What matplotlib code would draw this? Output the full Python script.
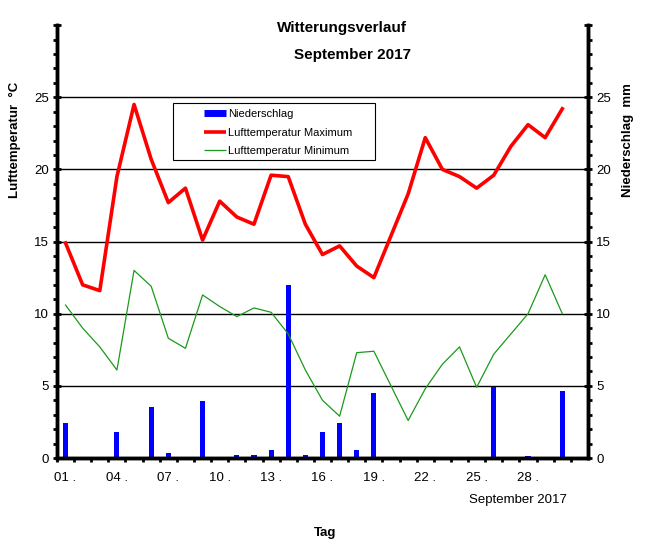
import matplotlib
matplotlib.use("Agg")
import matplotlib.pyplot as plt
from matplotlib.lines import Line2D
from matplotlib.patches import Rectangle
import matplotlib.ticker as ticker

plt.rcParams['font.family'] = ['Liberation Sans', 'DejaVu Sans']

days = list(range(1, 31))
t_max = [14.9, 12.0, 11.6, 19.5, 24.5, 20.7, 17.7, 18.7, 15.1, 17.8,
         16.7, 16.2, 19.6, 19.5, 16.2, 14.1, 14.7, 13.3, 12.5, 15.4,
         18.3, 22.2, 20.0, 19.5, 18.7, 19.6, 21.6, 23.1, 22.2, 24.2]
t_min = [10.6, 9.0, 7.7, 6.1, 13.0, 11.9, 8.3, 7.6, 11.3, 10.5,
         9.8, 10.4, 10.1, 8.6, 6.1, 4.0, 2.9, 7.3, 7.4, 5.0,
         2.6, 4.8, 6.5, 7.7, 4.9, 7.2, 8.6, 10.0, 12.7, 10.0]
rain = [2.45, 0, 0, 1.8, 0, 3.55, 0.37, 0, 3.97, 0,
        0.2, 0.2, 0.55, 12.0, 0.2, 1.8, 2.4, 0.55, 4.5, 0,
        0, 0, 0, 0, 0, 4.95, 0, 0.14, 0, 4.65]
label_days = [1, 4, 7, 10, 13, 16, 19, 22, 25, 28]
tick_labels = [f"{d:02d} ." for d in label_days]

fig = plt.figure(figsize=(6.46, 5.48), dpi=100)
ax2 = fig.add_axes([0.0882, 0.1642, 0.822, 0.790])
ax = ax2.twinx()

# precipitation on the right axis
ax2.bar(days, rain, width=0.3, color='#0000ff', zorder=2)
ax2.set_ylim(0, 30)
ax2.set_xlim(0.5, 31.5)

# temperatures on the left axis (drawn on top)
ax.plot(days, t_max, color='#ff0000', lw=2.6, zorder=3)
ax.plot(days, t_min, color='#1a9a1a', lw=0.9, zorder=3)
ax.set_ylim(0, 30)
ax.yaxis.tick_left()
ax2.yaxis.tick_right()

for a in (ax, ax2):
    a.spines['top'].set_visible(False)
    a.spines['left'].set_linewidth(2.5)
    a.spines['right'].set_linewidth(2.5)
    a.spines['bottom'].set_linewidth(2.5)

# grid lines
for v in [5, 10, 15, 20, 25]:
    ax2.axhline(v, color='black', lw=1, zorder=1)

for a in (ax, ax2):
    a.yaxis.set_major_locator(ticker.MultipleLocator(5))
    a.yaxis.set_minor_locator(ticker.MultipleLocator(1))
    a.yaxis.set_major_formatter(ticker.FuncFormatter(lambda v, p: "" if v > 25 else f"{int(v)}"))
    a.tick_params(axis='y', which='major', direction='inout', length=6, width=2, labelsize=9.5, pad=3)
    a.tick_params(axis='y', which='minor', direction='out', length=3, width=2)

fig.text(15 / 646, 1 - 140 / 548, "Lufttemperatur  °C", rotation=90, ha='center', va='center',
         fontsize=9.5, fontweight='bold')
fig.text(628 / 646, 1 - 140 / 548, "Niederschlag  mm", rotation=90, ha='center', va='center',
         fontsize=9.5, fontweight='bold')

ax2.set_xticks(label_days)
ax2.set_xticklabels(tick_labels, fontsize=9.5)
ax2.tick_params(axis='x', which='major', length=0, pad=10)
ax2.xaxis.set_minor_locator(ticker.FixedLocator([d + 0.5 for d in range(0, 31)]))
ax2.tick_params(axis='x', which='minor', direction='out', length=3, width=2)
ax.tick_params(axis='x', which='both', length=0, labelbottom=False)

# legend: box drawn separately for the wide left padding
ax.add_patch(Rectangle((173 / 646, 1 - 160 / 548), 202 / 646, 57 / 548,
                       transform=fig.transFigure, facecolor='white',
                       edgecolor='black', lw=0.8, zorder=5, clip_on=False))
handles = [Line2D([], [], color='#0000ff', lw=5, solid_capstyle='butt'),
           Line2D([], [], color='#ff0000', lw=2.6, solid_capstyle='butt'),
           Line2D([], [], color='#1a9a1a', lw=0.9, solid_capstyle='butt')]
leg = ax.legend(handles, ["Niederschlag", "Lufttemperatur Maximum", "Lufttemperatur Minimum"],
                loc='upper left', bbox_to_anchor=(195 / 646, 1 - 100 / 548),
                bbox_transform=fig.transFigure, fontsize=8, frameon=False,
                handlelength=2.0, handletextpad=0.2, borderpad=0.3, labelspacing=0.78)
leg.set_zorder(6)

fig.text(342 / 646, 1 - 28 / 548, "Witterungsverlauf", ha='center', va='center',
         fontsize=11, fontweight='bold')
fig.text(352 / 646, 1 - 55 / 548, "September 2017", ha='center', va='center',
         fontsize=11, fontweight='bold')
fig.text(518 / 646, 1 - 500 / 548, "September 2017", ha='center', va='center', fontsize=9.5)
fig.text(325 / 646, 1 - 533 / 548, "Tag", ha='center', va='center',
         fontsize=9.5, fontweight='bold')

fig.savefig("out.png", dpi=100)
